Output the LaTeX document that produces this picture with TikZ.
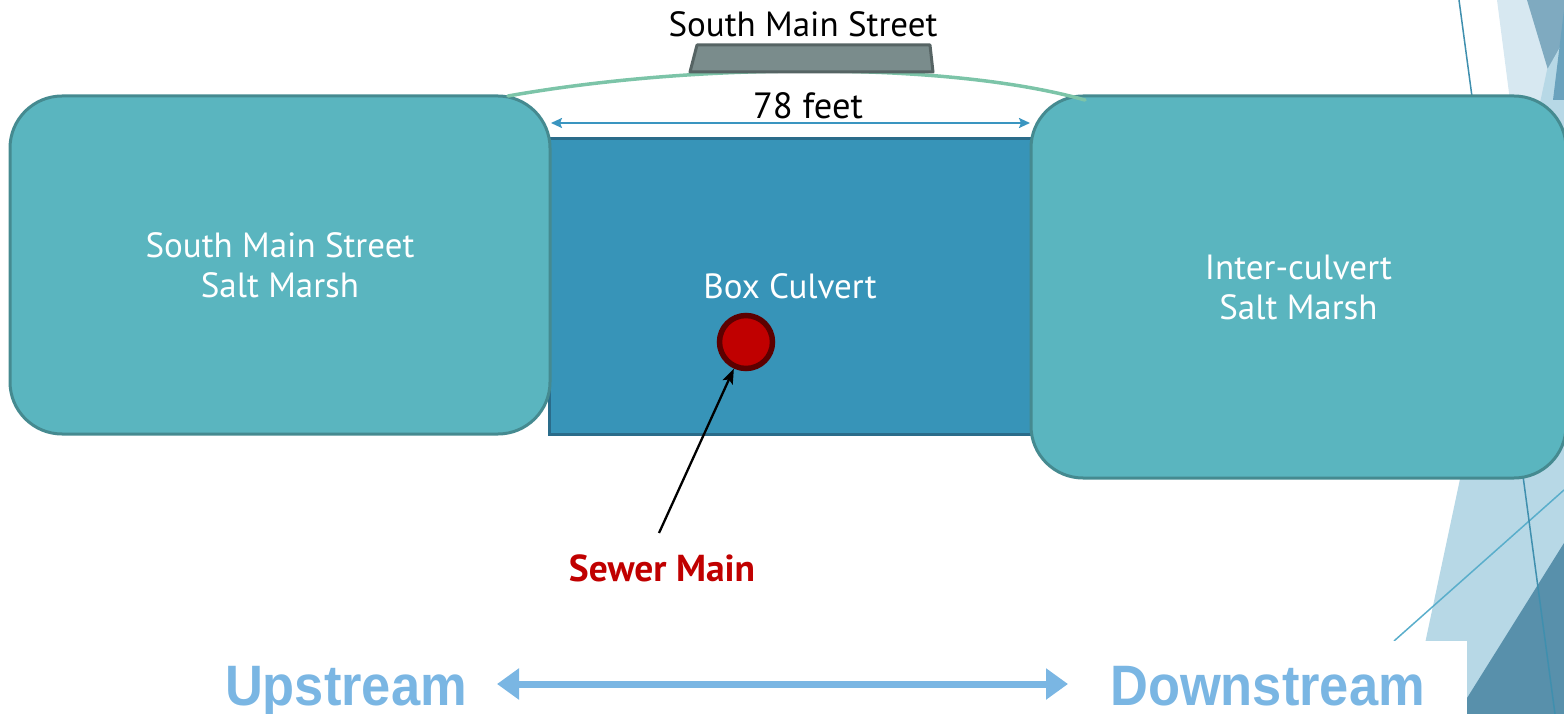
\documentclass[tikz,border=0pt]{standalone}
\usepackage{fontspec}
\setmainfont{PT Sans}
\newfontfamily\flowfont{Liberation Sans}
\usetikzlibrary{arrows.meta}

\definecolor{marsh}{HTML}{5AB5BF}
\definecolor{marshline}{HTML}{458A90}
\definecolor{culvert}{HTML}{3794B8}
\definecolor{culvertline}{HTML}{2A6C8A}
\definecolor{road}{HTML}{7A8C8C}
\definecolor{roadline}{HTML}{566464}
\definecolor{grade}{HTML}{7CC4A8}
\definecolor{dimblue}{HTML}{3A95C0}
\definecolor{sewer}{HTML}{C00000}
\definecolor{sewerline}{HTML}{5C0000}
\definecolor{flow}{HTML}{7AB6E3}
\definecolor{facetA}{HTML}{D7E8F1}
\definecolor{facetB}{HTML}{7FAAC0}
\definecolor{facetC}{HTML}{B7D8E6}
\definecolor{facetD}{HTML}{6AA2BD}
\definecolor{facetE}{HTML}{5890AB}
\definecolor{facetline}{HTML}{5AAECB}
\definecolor{facetlineB}{HTML}{3F8FAE}

\begin{document}
\begin{tikzpicture}[x=1pt,y=-1pt,
  bodytext/.style={font=\fontsize{35}{40}\selectfont},
  marshbox/.style={draw=marshline, line width=3pt, fill=marsh, rounded corners=52pt,
    text=white, align=center, bodytext, inner sep=0pt},
  culvertbox/.style={draw=culvertline, line width=3pt, fill=culvert,
    text=white, align=center, bodytext, inner sep=0pt},
  pipe/.style={circle, draw=sewerline, line width=5.5pt, fill=sewer,
    minimum size=53pt, inner sep=0pt},
  plainlabel/.style={bodytext, inner sep=0pt, anchor=base},
  flowlabel/.style={font=\flowfont\bfseries\fontsize{57}{60}\selectfont,
    text=flow, inner sep=0pt, anchor=base},
  dimline/.style={draw=dimblue, line width=2pt,
    {Stealth[length=11pt,width=10pt,inset=2pt]}-{Stealth[length=11pt,width=10pt,inset=2pt]}},
  pointer/.style={draw=black, line width=2.3pt, -{Stealth[length=15pt,width=11pt,inset=3pt]}},
  flowarrow/.style={draw=flow, line width=7pt,
    {Triangle[length=22pt,width=30pt]}-{Triangle[length=22pt,width=30pt]}},
  facetedge/.style={draw=facetline, line width=1.5pt},
]
\useasboundingbox (0,0) rectangle (1564,714);

% faceted backdrop at the right margin
\fill[facetA] (1497,0) -- (1564,0) -- (1564,519) -- cycle;
\fill[facetB] (1527,0) -- (1564,0) -- (1564,123) -- cycle;
\fill[facetC] (1547,70) -- (1564,40) -- (1564,714) -- (1410,714) -- cycle;
\fill[facetD] (1564,10) -- (1553,100) -- (1564,100) -- cycle;
\fill[facetE] (1564,543) -- (1564,714) -- (1457,714) -- cycle;
\draw[facetedge] (1394,641) -- (1564,490);
\draw[facetedge, draw=facetlineB] (1459,0) -- (1555,714);
\fill[white] (1100,641) rectangle (1467,714);

% culvert and the marshes on either side
\node[culvertbox, minimum width=482pt, minimum height=295pt] (culvert) at (790,286.5) {Box Culvert};
\node[marshbox, minimum width=540pt, minimum height=338pt] (upmarsh) at (280,265) {South Main Street\\Salt Marsh};
\node[marshbox, minimum width=535pt, minimum height=382pt] (downmarsh) at (1298.5,287) {Inter-culvert\\Salt Marsh};

% road grade and roadway
\coordinate (gradeL) at (508,96);
\coordinate (gradeR) at (1085,100);
\draw[grade, line width=3.5pt, line cap=round] (gradeL) .. controls (700,62) and (950,62) .. (gradeR);
\draw[draw=roadline, fill=road, line width=3pt, line join=round]
  (690,72) -- (697,45) -- (930,45) -- (933,72) -- cycle;
\node[plainlabel] (street) at (803,37) {South Main Street};

% span dimension
\coordinate (spanL) at (551,123);
\coordinate (spanR) at (1030,123);
\draw[dimline] (spanL) -- (spanR);
\node[plainlabel, font=\fontsize{36.5}{40}\selectfont] (span) at (808,119) {78 feet};

% sewer main crossing
\node[pipe] (pipe) at (746,342) {};
\node[plainlabel, font=\bfseries\fontsize{37.5}{40}\selectfont, text=sewer] (sewerlabel) at (662,581) {Sewer Main};
\coordinate (pointerTail) at (659,533);
\draw[pointer] (pointerTail) -- (pipe);

% flow direction
\node[flowlabel] (up) at (346,705) {\scalebox{0.92}[1]{Upstream}};
\node[flowlabel] (down) at (1267.5,705) {\scalebox{0.92}[1]{Downstream}};
\coordinate (flowL) at (497,684);
\coordinate (flowR) at (1068,684);
\draw[flowarrow] (flowL) -- (flowR);
\end{tikzpicture}
\end{document}
